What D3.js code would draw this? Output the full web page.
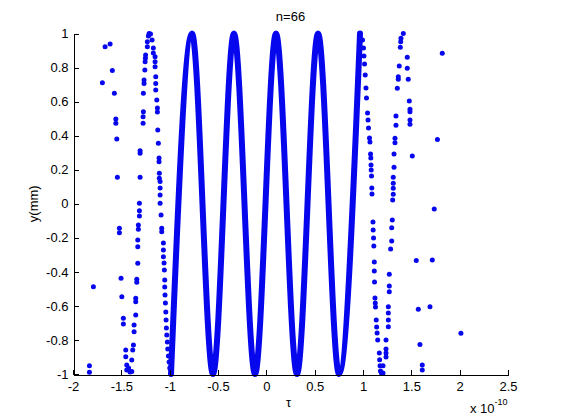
<!DOCTYPE html>
<html>
<head>
<meta charset="utf-8">
<script src="https://cdn.jsdelivr.net/npm/d3@7"></script>
<style>
  html, body { margin: 0; padding: 0; background: #fff; }
  svg text { font-family: "Liberation Sans", Arial, Helvetica, sans-serif; font-size: 13px; fill: #000; }
  .axis path, .axis line { stroke: #000; shape-rendering: crispEdges; }
</style>
</head>
<body>
<div id="chart"></div>
<script>
// ---- data (tau in units of 1e-10, y in mm) ----
const title = "n=66";
const xTicks = [-2, -1.5, -1, -0.5, 0, 0.5, 1, 1.5, 2, 2.5];
const xTickLabels = ["-2", "-1.5", "-1", "-0.5", "0", "0.5", "1", "1.5", "2", "2.5"];
const yTicks = [-1, -0.8, -0.6, -0.4, -0.2, 0, 0.2, 0.4, 0.6, 0.8, 1];
const yTickLabels = ["-1", "-0.8", "-0.6", "-0.4", "-0.2", "0", "0.2", "0.4", "0.6", "0.8", "1"];

// dense centre: successive troughs / peaks of the solid band
const denseTau = [-0.986, -0.769, -0.552, -0.335, -0.117, 0.100, 0.317, 0.535, 0.752, 0.969];
const denseY   = [-1, 1, -1, 1, -1, 1, -1, 1, -1, 1];

// scattered samples, [tau, y]
const leftOuter = [
  [-1.668, 0.922], [-1.616, 0.938], [-1.696, 0.711], [-1.593, 0.782], [-1.572, 0.649],
  [-1.557, 0.498], [-1.557, 0.473], [-1.547, 0.380], [-1.541, 0.155], [-1.520, -0.144],
  [-1.520, -0.170], [-1.503, -0.438], [-1.495, -0.546], [-1.479, -0.673], [-1.479, -0.706],
  [-1.454, -0.859], [-1.454, -0.898], [-1.444, -0.947], [-1.444, -0.976], [-1.425, -0.965],
  [-1.410, -0.988], [-1.392, -0.986], [-1.789, -0.487], [-1.830, -0.951], [-1.830, -0.990]
];
const leftRise = [
  [-1.392, -0.918], [-1.382, -0.859], [-1.375, -0.830], [-1.368, -0.712], [-1.368, -0.752],
  [-1.351, -0.653], [-1.351, -0.555], [-1.351, -0.575], [-1.340, -0.444], [-1.340, -0.461],
  [-1.330, -0.350], [-1.330, -0.213], [-1.330, -0.252], [-1.324, -0.125], [-1.324, -0.150],
  [-1.313, 0.003], [-1.313, -0.041], [-1.313, -0.072], [-1.306, 0.155], [-1.306, 0.312],
  [-1.306, 0.296], [-1.275, 0.473], [-1.275, 0.511], [-1.272, 0.541], [-1.272, 0.649],
  [-1.265, 0.707], [-1.265, 0.727], [-1.257, 0.786], [-1.254, 0.834], [-1.251, 0.854],
  [-1.249, 0.874], [-1.231, 0.922], [-1.231, 0.952], [-1.220, 0.985], [-1.213, 1.000],
  [-1.198, 0.997]
];
const leftFall = [
  [-1.182, 0.962], [-1.169, 0.915], [-1.169, 0.885], [-1.151, 0.864], [-1.151, 0.834],
  [-1.151, 0.805], [-1.144, 0.746], [-1.144, 0.707], [-1.144, 0.668], [-1.133, 0.609],
  [-1.127, 0.562], [-1.127, 0.539], [-1.123, 0.433], [-1.117, 0.355], [-1.110, 0.269],
  [-1.110, 0.247], [-1.107, 0.179], [-1.107, 0.150], [-1.099, 0.130], [-1.099, 0.093],
  [-1.099, 0.051], [-1.099, 0.003], [-1.089, -0.066], [-1.082, -0.144], [-1.082, -0.164],
  [-1.065, -0.231], [-1.065, -0.272], [-1.065, -0.311], [-1.058, -0.348], [-1.055, -0.389],
  [-1.051, -0.448], [-1.051, -0.489], [-1.048, -0.536], [-1.044, -0.583], [-1.040, -0.636],
  [-1.037, -0.683], [-1.034, -0.730], [-1.030, -0.771], [-1.024, -0.812], [-1.020, -0.853],
  [-1.013, -0.894], [-1.006, -0.930], [-0.999, -0.965]
];
const rightFall = [
  [0.995, 0.962], [1.005, 0.915], [1.010, 0.868], [1.016, 0.821], [1.023, 0.756],
  [1.031, 0.680], [1.036, 0.621], [1.047, 0.533], [1.052, 0.492], [1.057, 0.445],
  [1.067, 0.386], [1.072, 0.363], [1.078, 0.292], [1.081, 0.269], [1.083, 0.228],
  [1.085, 0.198], [1.088, 0.163], [1.091, 0.093], [1.093, 0.057], [1.103, -0.107],
  [1.105, -0.154], [1.109, -0.201], [1.112, -0.248], [1.117, -0.342], [1.117, -0.395],
  [1.119, -0.460], [1.124, -0.554], [1.127, -0.583], [1.129, -0.607], [1.137, -0.683],
  [1.141, -0.724], [1.146, -0.759], [1.152, -0.800], [1.169, -0.876], [1.172, -0.917],
  [1.176, -0.952], [1.181, -0.982], [1.191, -0.994], [1.207, -0.994], [1.207, -0.952]
];
const rightRise = [
  [1.238, -0.800], [1.238, -0.853], [1.238, -0.876], [1.238, -0.900], [1.262, -0.605],
  [1.262, -0.642], [1.262, -0.683], [1.262, -0.722], [1.272, -0.414], [1.272, -0.483],
  [1.272, -0.517], [1.286, -0.266], [1.297, -0.219], [1.297, -0.141], [1.303, -0.095],
  [1.307, 0.022], [1.313, 0.056], [1.313, 0.091], [1.313, 0.120], [1.313, 0.155],
  [1.321, 0.214], [1.321, 0.292], [1.331, 0.359], [1.331, 0.384], [1.341, 0.461],
  [1.341, 0.515], [1.355, 0.678], [1.365, 0.731], [1.365, 0.746], [1.375, 0.809],
  [1.386, 0.919], [1.390, 0.952], [1.393, 0.972], [1.417, 1.000]
];
const rightOuter = [
  [1.458, 0.860], [1.458, 0.796], [1.468, 0.731], [1.479, 0.604], [1.486, 0.555],
  [1.486, 0.541], [1.486, 0.492], [1.486, 0.467], [1.510, 0.280], [1.551, -0.333],
  [1.572, -0.620], [1.589, -0.826], [1.613, -0.947], [1.613, -0.977], [1.693, -0.605],
  [1.717, -0.330], [1.737, -0.031], [1.770, 0.377], [1.820, 0.884], [2.013, -0.761]
];

// ---- layout ----
const W = 561, H = 420;
const plotL = 73, plotR = 508, plotT = 33.5, plotB = 374;
const blue = "#0707ee";

const svg = d3.select("#chart").append("svg")
  .attr("width", W).attr("height", H);

const x = d3.scaleLinear().domain([-2, 2.5]).range([plotL, plotR]);
const y = d3.scaleLinear().domain([-1, 1]).range([plotB, plotT]);

// solid band in the middle
const dense = d3.zip(denseTau, denseY);
const line = d3.line()
  .x(d => x(d[0]))
  .y(d => y(d[1]))
  .curve(d3.curveMonotoneX);

svg.append("path")
  .datum(dense)
  .attr("d", line)
  .attr("fill", "none")
  .attr("stroke", blue)
  .attr("stroke-width", 6)
  .attr("stroke-linejoin", "round")
  .attr("stroke-linecap", "round");

// scattered points
const pts = [].concat(leftOuter, leftRise, leftFall, rightFall, rightRise, rightOuter);
svg.append("g").selectAll("circle")
  .data(pts)
  .join("circle")
  .attr("cx", d => x(d[0]))
  .attr("cy", d => y(d[1]))
  .attr("r", 2.5)
  .attr("fill", blue);

// axes (ticks point inward, no box)
svg.append("g")
  .attr("class", "axis")
  .attr("transform", `translate(0,${plotB + 0.5})`)
  .call(d3.axisBottom(x)
    .tickValues(xTicks)
    .tickFormat((d, i) => xTickLabels[i])
    .tickSizeInner(-5).tickSizeOuter(0).tickPadding(7))
  .call(g => g.selectAll("text").style("font-size", "13px").attr("fill", "#000"));

svg.append("g")
  .attr("class", "axis")
  .attr("transform", `translate(${plotL + 0.5},0)`)
  .call(d3.axisLeft(y)
    .tickValues(yTicks)
    .tickFormat((d, i) => yTickLabels[i])
    .tickSizeInner(-5).tickSizeOuter(0).tickPadding(5))
  .call(g => g.selectAll("text").style("font-size", "13px").attr("fill", "#000"));

// labels
svg.append("text")
  .attr("x", (plotL + plotR) / 2).attr("y", 20.5)
  .attr("text-anchor", "middle")
  .text(title);

svg.append("text")
  .attr("x", 288.5).attr("y", 407)
  .attr("text-anchor", "middle")
  .text("τ");

const mult = svg.append("text").attr("x", 470).attr("y", 413);
mult.append("tspan").text("x 10");
mult.append("tspan").attr("dy", -8).style("font-size", "9px").text("-10");

svg.append("text")
  .attr("transform", `translate(38,${y(0)}) rotate(-90)`)
  .attr("text-anchor", "middle")
  .text("y(mm)");
</script>
</body>
</html>
